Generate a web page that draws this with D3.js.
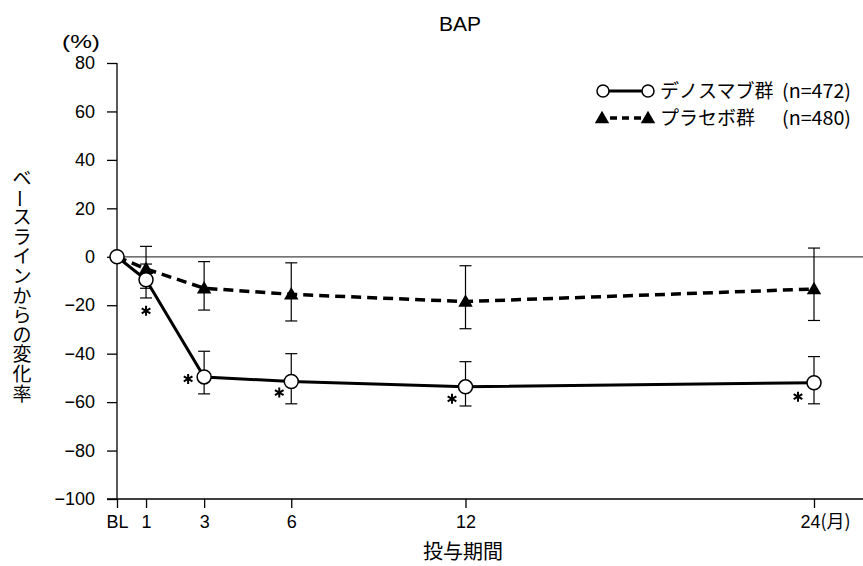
<!DOCTYPE html>
<html>
<head>
<meta charset="utf-8">
<script src="https://cdn.jsdelivr.net/npm/d3@7"></script>
<style>
  body { margin: 0; background: #fff; }
  text { font-family: "Liberation Sans", Arial, sans-serif; fill: #000; }
  .jp { font-family: "Noto Sans CJK JP", "Noto Sans", sans-serif; }
</style>
</head>
<body>
<svg width="863" height="566"></svg>
<script>
// months (0 = BL)
var months = [0, 1, 3, 6, 12, 24];
var tickLabels = ['BL', '1', '3', '6', '12', '24'];
var yTicks = [80, 60, 40, 20, 0, -20, -40, -60, -80, -100];

// denosumab: mean, upper, lower
var denoMean = [0, -9.5, -49.6, -51.5, -53.7, -52];
var denoHigh = [0, -3, -39, -40, -43.3, -41.2];
var denoLow = [0, -17, -56.6, -60.7, -61.6, -60.7];

// placebo
var placMean = [0, -5, -13, -15.5, -18.5, -13.3];
var placHigh = [0, 4.3, -2, -2.5, -3.7, 3.6];
var placLow = [0, -13, -22, -26.5, -29.7, -26.3];

var signif = [false, true, true, true, true, true];

var svg = d3.select('svg');
var x = d3.scaleLinear().domain([0, 24]).range([117, 814]);
var y = d3.scaleLinear().domain([-100, 80]).range([499, 63]);

// title
svg.append('text').attr('x', 460).attr('y', 31).attr('text-anchor', 'middle')
  .style('font-size', '21px').text('BAP');
svg.append('text').attr('x', 62).attr('y', 48)
  .attr('textLength', 38).attr('lengthAdjust', 'spacingAndGlyphs')
  .style('font-size', '19px').text('(%)');

// y axis
var yAxis = svg.append('g').attr('transform', 'translate(117,0)')
  .call(d3.axisLeft(y).tickValues(yTicks).tickSize(10).tickPadding(12)
    .tickFormat(function(d){ return d < 0 ? '\u2212' + (-d) : d; }));
yAxis.attr('font-size', null).attr('font-family', null);
yAxis.select('.domain').attr('d', 'M0,' + y(80) + 'V' + y(-100)).attr('stroke-width', 1.3);
yAxis.selectAll('.tick line').attr('stroke-width', 1.3);
yAxis.selectAll('text').style('font-size', '18px');

// x axis
var xAxis = svg.append('g').attr('transform', 'translate(0,499)')
  .call(d3.axisBottom(x).tickValues(months).tickSize(9).tickPadding(7)
    .tickFormat(function(d, i){ return tickLabels[i]; }));
xAxis.attr('font-size', null).attr('font-family', null);
xAxis.select('.domain').attr('d', 'M107,0H863').attr('stroke-width', 1.3);
xAxis.selectAll('.tick line').attr('stroke-width', 1.3);
xAxis.selectAll('text').style('font-size', '18px');
var last = xAxis.selectAll('.tick').filter(function(d){ return d === 24; }).select('text');
last.append('tspan').attr('class', 'jp').text('(月)');
last.attr('text-anchor', 'start').attr('x', -14);

// zero line
svg.append('line').attr('x1', 117).attr('x2', 863).attr('y1', y(0)).attr('y2', y(0))
  .attr('stroke', '#444').attr('stroke-width', 1.2);

// axis titles
svg.append('text').attr('class', 'jp').attr('x', 463).attr('y', 559).attr('text-anchor', 'middle')
  .style('font-size', '20px').text('投与期間');
// vertical y title: one text, one tspan per character, the long mark turned upright
var yTitle = 'ベースラインからの変化率'.split('');
svg.append('text').attr('class', 'jp').attr('text-anchor', 'middle')
  .attr('dominant-baseline', 'central').style('font-size', '19px')
  .selectAll('tspan').data(yTitle).enter().append('tspan')
  .attr('x', 22)
  .attr('y', function(d, i){ return 176 + i * 19.6 - (d === 'ー' ? 15 : 0); })
  .attr('rotate', function(d){ return d === 'ー' ? 90 : null; })
  .text(function(d){ return d; });

// error bars
function errBars(hi, lo, cls) {
  var g = svg.append('g').attr('class', cls);
  months.forEach(function(m, i) {
    if (i === 0) return;
    g.append('line').attr('x1', x(m)).attr('x2', x(m)).attr('y1', y(hi[i])).attr('y2', y(lo[i]))
      .attr('stroke', '#000').attr('stroke-width', 1.2);
    [hi[i], lo[i]].forEach(function(v) {
      g.append('line').attr('x1', x(m) - 6).attr('x2', x(m) + 6).attr('y1', y(v)).attr('y2', y(v))
        .attr('stroke', '#000').attr('stroke-width', 1.2);
    });
  });
}
errBars(placHigh, placLow, 'err-plac');
errBars(denoHigh, denoLow, 'err-deno');

var line = d3.line().x(function(d){ return x(d[0]); }).y(function(d){ return y(d[1]); });
var placPts = months.map(function(m, i){ return [m, placMean[i]]; });
var denoPts = months.map(function(m, i){ return [m, denoMean[i]]; });

svg.append('path').attr('d', line(placPts)).attr('fill', 'none').attr('stroke', '#000')
  .attr('stroke-width', 3.5).attr('stroke-dasharray', '10,6');
svg.append('path').attr('d', line(denoPts)).attr('fill', 'none').attr('stroke', '#000')
  .attr('stroke-width', 3);

var tri = d3.symbol().type(d3.symbolTriangle).size(90);
svg.selectAll('.tri').data(placPts.slice(1)).enter().append('path').attr('class', 'tri')
  .attr('d', tri).attr('transform', function(d){ return 'translate(' + x(d[0]) + ',' + (y(d[1]) + 1) + ')'; })
  .attr('fill', '#000');

svg.selectAll('.circ').data(denoPts).enter().append('circle').attr('class', 'circ')
  .attr('cx', function(d){ return x(d[0]); }).attr('cy', function(d){ return y(d[1]); })
  .attr('r', 7).attr('fill', '#fff').attr('stroke', '#000').attr('stroke-width', 1.5);

// significance asterisks (offset from the denosumab point)
var starOffsets = [null, [0, 31], [-16, 2], [-12, 11], [-13.5, 12], [-16, 14]];
var star = d3.symbol().type(d3.symbolAsterisk).size(70);
months.forEach(function(m, i) {
  if (!signif[i]) return;
  svg.append('path').attr('d', star)
    .attr('transform', 'translate(' + (x(m) + starOffsets[i][0]) + ',' + (y(denoMean[i]) + starOffsets[i][1]) + ')')
    .attr('fill', 'none').attr('stroke', '#000').attr('stroke-width', 2);
});

// legend
var lg = svg.append('g');
lg.append('line').attr('x1', 603).attr('x2', 648).attr('y1', 91).attr('y2', 91)
  .attr('stroke', '#000').attr('stroke-width', 3);
[603, 648].forEach(function(cx) {
  lg.append('circle').attr('cx', cx).attr('cy', 91).attr('r', 6)
    .attr('fill', '#fff').attr('stroke', '#000').attr('stroke-width', 1.5);
});
lg.append('line').attr('x1', 608).attr('x2', 643).attr('y1', 118).attr('y2', 118)
  .attr('stroke', '#000').attr('stroke-width', 3.5).attr('stroke-dasharray', '7,5').attr('stroke-dashoffset', -2);
[602, 648].forEach(function(cx) {
  lg.append('path').attr('d', tri).attr('transform', 'translate(' + cx + ',119)').attr('fill', '#000');
});
var legendNames = ['デノスマブ群', 'プラセボ群'];
var legendN = ['(n=472)', '(n=480)'];
legendNames.forEach(function(name, i) {
  lg.append('text').attr('class', 'jp').attr('x', 660).attr('y', 98 + i * 27)
    .style('font-size', '19px').text(name);
  lg.append('text').attr('class', 'jp').attr('x', 782).attr('y', 98 + i * 27)
    .attr('textLength', 69).attr('lengthAdjust', 'spacingAndGlyphs')
    .style('font-size', '19px').text(legendN[i]);
});
</script>
</body>
</html>
